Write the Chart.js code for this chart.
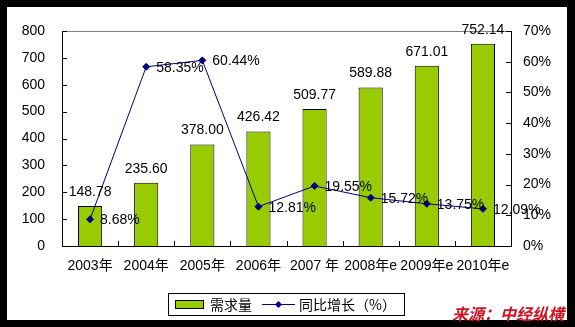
<!DOCTYPE html>
<html>
<head>
<meta charset="utf-8">
<script src="https://cdn.jsdelivr.net/npm/chart.js@4/dist/chart.umd.min.js"></script>
<style>
  html, body { margin: 0; padding: 0; background: #000; }
  canvas { display: block; }
</style>
</head>
<body>
<canvas id="demandChart" width="575" height="327"></canvas>
<script>
const years = ['2003年', '2004年', '2005年', '2006年', '2007 年', '2008年e', '2009年e', '2010年e'];
const demand = [148.78, 235.60, 378.00, 426.42, 509.77, 589.88, 671.01, 752.14];
const growth = [8.68, 58.35, 60.44, 12.81, 19.55, 15.72, 13.75, 12.09];
const demandTicks = [0, 100, 200, 300, 400, 500, 600, 700, 800];
const growthTicks = [0, 10, 20, 30, 40, 50, 60, 70];
const demandLabel = '需求量';
const growthLabel = '同比增长（%）';
const sourceText = '来源：中经纵横';

const FONT = '"Liberation Sans", Arial, "Noto Sans CJK SC", sans-serif';
const CJK = '"Noto Sans CJK SC", "Liberation Sans", sans-serif';
const BAR = '#99CC00';
const NAVY = '#000080';

// frame, inward tick marks, value labels, legend and source line
const decor = {
  id: 'decor',
  beforeDraw(chart) {
    const c = chart.ctx;
    c.save();
    c.fillStyle = '#000';
    c.fillRect(0, 0, chart.width, chart.height);
    c.fillStyle = '#fff';
    c.fillRect(7, 7, 560, 313);
    c.restore();
  },
  afterDatasetsDraw(chart) {
    const c = chart.ctx;
    const a = chart.chartArea;
    const x = chart.scales.x, y = chart.scales.y, y1 = chart.scales.y1;
    c.save();
    // gray top border of plot area
    c.strokeStyle = '#808080';
    c.lineWidth = 1;
    c.beginPath();
    c.moveTo(a.left, a.top + 0.5);
    c.lineTo(a.right, a.top + 0.5);
    c.stroke();
    // tick marks pointing inward
    c.strokeStyle = '#000';
    c.beginPath();
    demandTicks.forEach(v => {
      const py = Math.round(y.getPixelForValue(v)) + 0.5;
      c.moveTo(a.left, py); c.lineTo(a.left + 5, py);
    });
    growthTicks.forEach(v => {
      const py = Math.round(y1.getPixelForValue(v)) + 0.5;
      c.moveTo(a.right, py); c.lineTo(a.right - 5, py);
    });
    for (let i = 1; i < years.length; i++) {
      const px = Math.round((x.getPixelForValue(i - 1) + x.getPixelForValue(i)) / 2) + 0.5;
      c.moveTo(px, a.bottom); c.lineTo(px, a.bottom - 5);
    }
    c.stroke();

    // bar value labels
    c.fillStyle = '#000';
    c.font = '14px ' + FONT;
    c.textAlign = 'center';
    c.textBaseline = 'alphabetic';
    chart.getDatasetMeta(0).data.forEach((el, i) => {
      c.fillText(demand[i].toFixed(2), el.x, el.y - 10);
    });
    // growth labels
    c.textAlign = 'left';
    c.textBaseline = 'middle';
    chart.getDatasetMeta(1).data.forEach((el, i) => {
      c.fillText(growth[i].toFixed(2) + '%', el.x + 10, el.y + 1);
    });
    c.restore();
  },
  afterDraw(chart) {
    const c = chart.ctx;
    c.save();
    // legend
    c.strokeStyle = '#000';
    c.lineWidth = 1;
    c.strokeRect(168.5, 293.5, 236, 22);
    c.fillStyle = BAR;
    c.fillRect(175, 300, 29, 9);
    c.strokeRect(175.5, 300.5, 28, 8);
    c.fillStyle = '#000';
    c.font = '14px ' + CJK;
    c.textBaseline = 'middle';
    c.textAlign = 'left';
    c.fillText(demandLabel, 210, 305);
    c.strokeStyle = NAVY;
    c.beginPath();
    c.moveTo(262, 304.5); c.lineTo(295, 304.5);
    c.stroke();
    c.fillStyle = NAVY;
    c.beginPath();
    c.moveTo(278.5, 301); c.lineTo(282, 304.5); c.lineTo(278.5, 308); c.lineTo(275, 304.5);
    c.closePath(); c.fill();
    c.fillStyle = '#000';
    c.fillText(growthLabel, 299, 305);
    // source
    c.fillStyle = '#CC1122';
    c.font = 'italic bold 16px ' + CJK;
    c.textAlign = 'left';
    c.fillText(sourceText, 452, 314);
    c.restore();
  }
};

new Chart(document.getElementById('demandChart'), {
  data: {
    labels: years,
    datasets: [
      {
        type: 'bar',
        label: demandLabel,
        data: demand,
        backgroundColor: BAR,
        borderColor: '#000',
        borderWidth: 1,
        borderSkipped: 'bottom',
        categoryPercentage: 1,
        barPercentage: 0.43,
        yAxisID: 'y',
        order: 1
      },
      {
        type: 'line',
        label: growthLabel,
        data: growth,
        borderColor: NAVY,
        borderWidth: 1,
        pointStyle: 'rectRot',
        pointRadius: 3.5,
        pointBackgroundColor: NAVY,
        pointBorderColor: NAVY,
        tension: 0,
        yAxisID: 'y1',
        order: 0
      }
    ]
  },
  options: {
    responsive: false,
    animation: false,
    layout: { padding: { left: 7, right: 8, top: 31, bottom: 51 } },
    plugins: { legend: { display: false }, tooltip: { enabled: false } },
    scales: {
      x: {
        offset: true,
        grid: { display: false, drawTicks: false, tickLength: 0 },
        border: { display: true, color: '#000', width: 1 },
        ticks: { color: '#000', font: { family: FONT, size: 14 }, padding: 12, autoSkip: false, maxRotation: 0 },
        afterFit: s => { s.height = 30; }
      },
      y: {
        position: 'left',
        min: 0, max: 800,
        grid: { display: false, drawTicks: false, tickLength: 0 },
        border: { display: true, color: '#000', width: 1 },
        ticks: { stepSize: 100, color: '#000', font: { family: FONT, size: 14 }, padding: 17 },
        afterFit: s => { s.width = 55; }
      },
      y1: {
        position: 'right',
        min: 0, max: 70,
        grid: { display: false, drawTicks: false, tickLength: 0 },
        border: { display: true, color: '#000', width: 1 },
        ticks: { stepSize: 10, color: '#000', font: { family: FONT, size: 14 }, padding: 12, callback: v => v + '%' },
        afterFit: s => { s.width = 56; }
      }
    }
  },
  plugins: [decor]
});
</script>
</body>
</html>
